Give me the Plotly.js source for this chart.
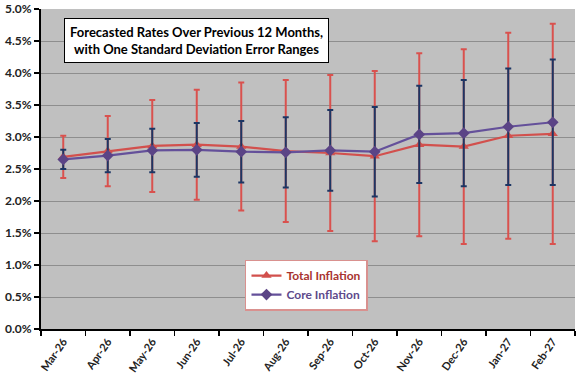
<!DOCTYPE html>
<html>
<head>
<meta charset="utf-8">
<script src="https://cdn.plot.ly/plotly-3.0.1.min.js"></script>
<style>html,body{margin:0;padding:0;background:#fff;}#chart{width:576px;height:384px;}</style>
</head>
<body>
<div id="chart"></div>
<script>
var months = ["Mar-26","Apr-26","May-26","Jun-26","Jul-26","Aug-26","Sep-26","Oct-26","Nov-26","Dec-26","Jan-27","Feb-27"];
var totalRate = [2.69, 2.78, 2.86, 2.88, 2.85, 2.78, 2.75, 2.70, 2.88, 2.85, 3.02, 3.05];
var totalStd  = [0.33, 0.55, 0.72, 0.86, 1.00, 1.11, 1.22, 1.33, 1.43, 1.52, 1.61, 1.72];
var coreRate  = [2.65, 2.71, 2.79, 2.80, 2.77, 2.76, 2.79, 2.77, 3.04, 3.06, 3.16, 3.23];
var coreStd   = [0.15, 0.26, 0.34, 0.42, 0.48, 0.55, 0.63, 0.70, 0.76, 0.83, 0.91, 0.98];

var FONT = "Lato, 'Open Sans', sans-serif";

var traces = [
  {
    x: months, y: totalRate, type: "scatter", mode: "lines+markers",
    name: "<b><span style='color:#a8332f'>Total Inflation</span></b>",
    line: {color: "#d2504d", width: 2.2},
    marker: {symbol: "triangle-up", size: 9, color: "#d2504d"},
    error_y: {type: "data", array: totalStd, visible: true, color: "#d9514e", thickness: 2, width: 3}
  },
  {
    x: months, y: coreRate, type: "scatter", mode: "lines+markers",
    name: "<b><span style='color:#5e4a8b'>Core Inflation</span></b>",
    line: {color: "#64509a", width: 2.2},
    marker: {symbol: "diamond", size: 9, color: "#5b4486"},
    error_y: {type: "data", array: coreStd, visible: true, color: "#1c3664", thickness: 2, width: 3}
  }
];

var layout = {
  width: 576, height: 384,
  margin: {l: 41, r: 1, t: 9, b: 55, pad: 0},
  paper_bgcolor: "#ffffff",
  plot_bgcolor: "#c0c0c0",
  font: {family: FONT, size: 11, color: "#222"},
  showlegend: true,
  legend: {
    x: 0.382, y: 0.217, xanchor: "left", yanchor: "top",
    bgcolor: "#ffffff", bordercolor: "#d9918f", borderwidth: 1.5,
    font: {family: FONT, size: 12, color: "#a8332f"},
    tracegroupgap: 0, itemwidth: 30
  },
  xaxis: {
    type: "category",
    tickson: "boundaries",
    ticks: "outside", ticklen: 5, tickcolor: "#000", tickwidth: 1.5,
    tickangle: -55,
    tickfont: {family: FONT, size: 11, color: "#222", weight: "bold"},
    showline: true, linecolor: "#000", linewidth: 2,
    showgrid: false, zeroline: false,
    range: [-0.5, 11.5]
  },
  yaxis: {
    range: [0, 5], dtick: 0.5, tick0: 0,
    tickformat: ".1f", ticksuffix: "%",
    ticks: "outside", ticklen: 5, tickcolor: "#000", tickwidth: 1.5,
    tickfont: {family: FONT, size: 12, color: "#222", weight: "bold"},
    showline: true, linecolor: "#000", linewidth: 2,
    showgrid: true, gridcolor: "#8e8e8e", gridwidth: 1,
    zeroline: false
  },
  annotations: [{
    xref: "paper", yref: "paper", x: 0.291, y: 0.90,
    xanchor: "center", yanchor: "middle",
    text: "<b>Forecasted Rates Over Previous 12 Months,<br>with One Standard Deviation Error Ranges</b>",
    showarrow: false, align: "center",
    font: {family: FONT, size: 13, color: "#000"},
    bgcolor: "#ffffff", bordercolor: "#000", borderwidth: 1, borderpad: 5
  }]
};

Plotly.newPlot("chart", traces, layout, {displayModeBar: false, staticPlot: true});
</script>
</body>
</html>
